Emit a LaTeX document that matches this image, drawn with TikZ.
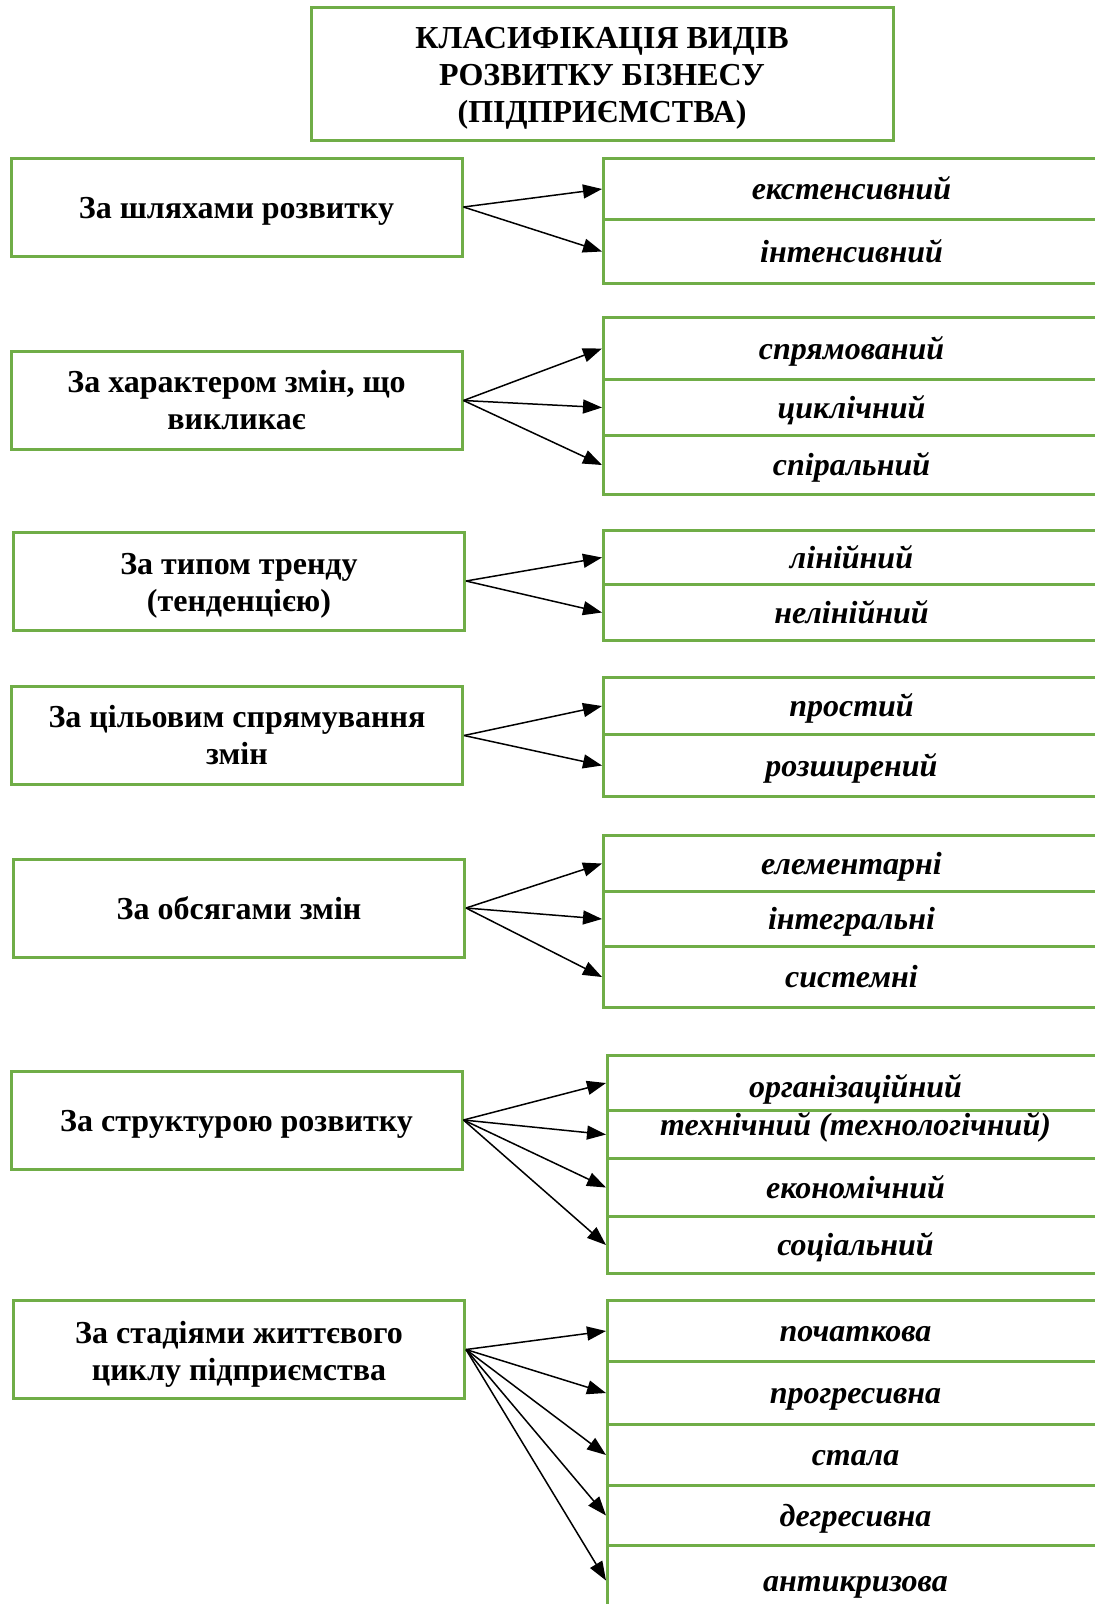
\documentclass[tikz,border=0pt]{standalone}
\usepackage{fontspec}
\setmainfont{Liberation Serif}
\usetikzlibrary{arrows.meta}
\definecolor{boxgreen}{RGB}{112,173,71}
\tikzset{>={Stealth[length=19pt,width=14pt,inset=0pt]}}
\tikzset{
  titlebox/.style={draw=boxgreen,line width=3pt,minimum width=582pt,minimum height=133pt,align=center,font=\fontsize{32}{37}\selectfont\bfseries},
  lbox/.style={draw=boxgreen,line width=3pt,minimum width=451pt,minimum height=98pt,align=center,font=\fontsize{32}{37}\selectfont\bfseries},
  oneline/.style={text height=22pt,text depth=0pt},
  rbox/.style={draw=boxgreen,line width=3pt,minimum width=496pt,inner sep=0pt,anchor=north west,text height=21pt,text depth=0pt,font=\fontsize{32}{37}\selectfont\bfseries\itshape},
  arr/.style={->,line width=1.5pt}
}

\begin{document}
\begin{tikzpicture}[x=1pt,y=-1pt]
  \useasboundingbox[fill=white] (0,0) rectangle (1095,1604);

  \node[titlebox] (title) at (602,73.5) {\rule{0pt}{30pt}КЛАСИФІКАЦІЯ ВИДІВ\\РОЗВИТКУ БІЗНЕСУ\\(ПІДПРИЄМСТВА)};

  \node[lbox,oneline] (l1) at (236.5,207) {За шляхами розвитку};
  \node[lbox] (l2) at (236.5,400.5) {За характером змін, що\\викликає};
  \node[lbox] (l3) at (239,581) {\rule{0pt}{30pt}За типом тренду\\(тенденцією)};
  \node[lbox] (l4) at (237,735.5) {За цільовим спрямування\\змін};
  \node[lbox,oneline] (l5) at (239,908) {За обсягами змін};
  \node[lbox,oneline] (l6) at (236.5,1120) {За структурою розвитку};
  \node[lbox] (l7) at (239,1349.5) {\rule{0pt}{32pt}За стадіями життєвого\\циклу підприємства};

  \node[rbox,minimum height=61pt] (r11) at (602,157) {екстенсивний};
  \node[rbox,minimum height=64pt] (r12) at (602,218) {інтенсивний};

  \node[rbox,minimum height=62pt] (r21) at (602,316) {спрямований};
  \node[rbox,minimum height=56pt] (r22) at (602,378) {циклічний};
  \node[rbox,minimum height=59pt] (r23) at (602,434) {спіральний};

  \node[rbox,minimum height=54pt] (r31) at (602,529) {лінійний};
  \node[rbox,minimum height=56pt] (r32) at (602,583) {нелінійний};

  \node[rbox,minimum height=57pt] (r41) at (602,676) {простий};
  \node[rbox,minimum height=62pt] (r42) at (602,733) {розширений};

  \node[rbox,minimum height=56pt] (r51) at (602,834) {елементарні};
  \node[rbox,minimum height=55pt] (r52) at (602,890) {інтегральні};
  \node[rbox,minimum height=61pt] (r53) at (602,945) {системні};

  \node[rbox,minimum height=55pt,text height=36pt,text depth=7pt] (r61) at (606,1054) {організаційний};
  \node[rbox,minimum height=48pt,text height=23pt,text depth=21pt] (r62) at (606,1109) {технічний (технологічний)};
  \node[rbox,minimum height=58pt] (r63) at (606,1157) {економічний};
  \node[rbox,minimum height=57pt] (r64) at (606,1215) {соціальний};

  \node[rbox,minimum height=61pt] (r71) at (606,1299) {початкова};
  \node[rbox,minimum height=63pt] (r72) at (606,1360) {прогресивна};
  \node[rbox,minimum height=61pt] (r73) at (606,1423) {стала};
  \node[rbox,minimum height=60pt] (r74) at (606,1484) {дегресивна};
  \node[rbox,minimum height=70pt] (r75) at (606,1544) {антикризова};

  \draw[arr] (l1.east) -- (r11.west);
  \draw[arr] (l1.east) -- (r12.west);

  \draw[arr] (l2.east) -- (r21.west);
  \draw[arr] (l2.east) -- (r22.west);
  \draw[arr] (l2.east) -- (r23.west);

  \draw[arr] (l3.east) -- (r31.west);
  \draw[arr] (l3.east) -- (r32.west);

  \draw[arr] (l4.east) -- (r41.west);
  \draw[arr] (l4.east) -- (r42.west);

  \draw[arr] (l5.east) -- (r51.west);
  \draw[arr] (l5.east) -- (r52.west);
  \draw[arr] (l5.east) -- (r53.west);

  \draw[arr] (l6.east) -- (r61.west);
  \draw[arr] (l6.east) -- (r62.west);
  \draw[arr] (l6.east) -- (r63.west);
  \draw[arr] (l6.east) -- (r64.west);

  \draw[arr] (l7.east) -- (r71.west);
  \draw[arr] (l7.east) -- (r72.west);
  \draw[arr] (l7.east) -- (r73.west);
  \draw[arr] (l7.east) -- (r74.west);
  \draw[arr] (l7.east) -- (r75.west);
\end{tikzpicture}
\end{document}
